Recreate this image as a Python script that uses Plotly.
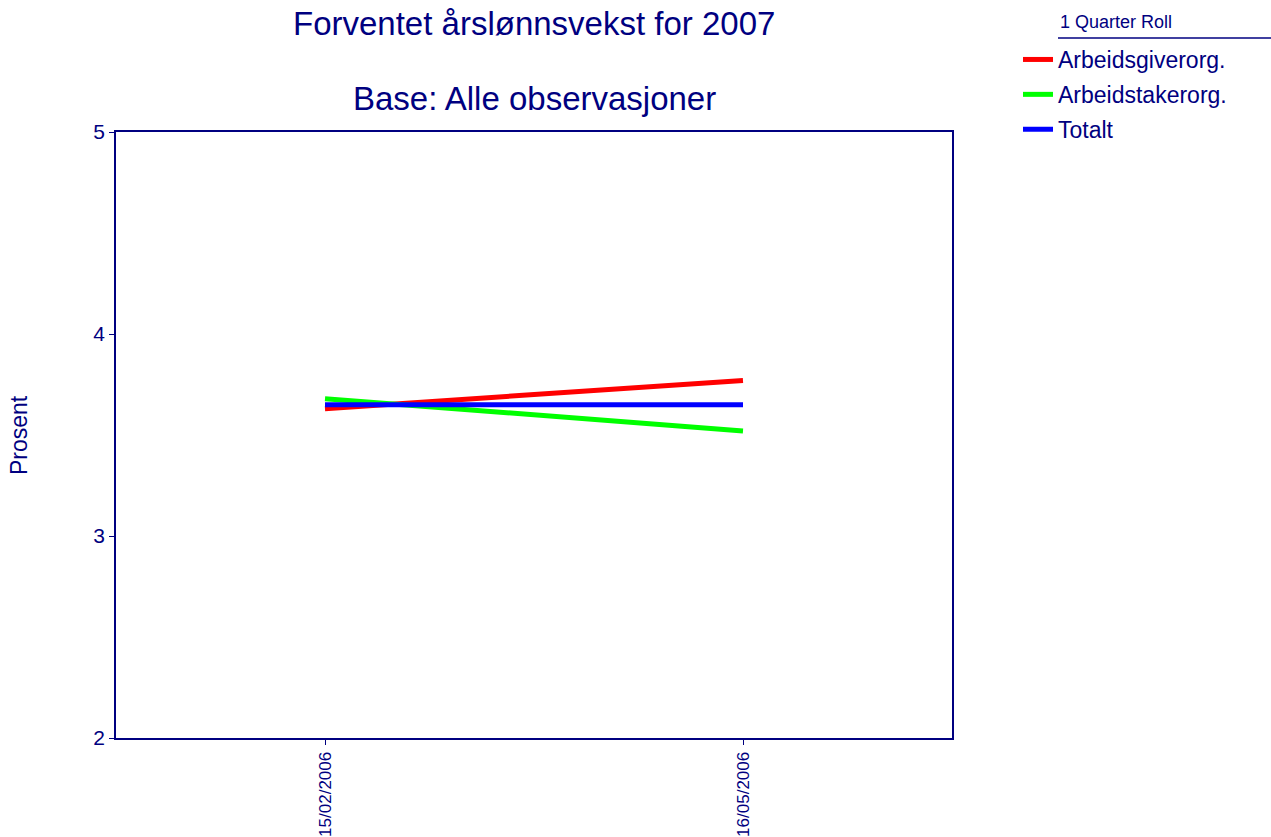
import plotly.graph_objects as go

# Data
dates = ["15/02/2006", "16/05/2006"]
arbeidsgiver = [3.63, 3.77]
arbeidstaker = [3.68, 3.52]
totalt = [3.65, 3.65]

names = ["Arbeidsgiverorg.", "Arbeidstakerorg.", "Totalt"]
colors = ["#ff0000", "#00ff00", "#0000ff"]
navy = "#000080"
font = "Liberation Sans, Arial"

W, H = 1271, 837
L, T = 116, 132
PW, PH = 836, 606


def px(x):
    # pixel x -> paper coordinate
    return (x - L) / PW


def py(y):
    # pixel y -> paper coordinate
    return (T + PH - y) / PH


traces = []
for i, ys in enumerate([arbeidsgiver, arbeidstaker, totalt]):
    traces.append(
        go.Scatter(
            x=dates,
            y=ys,
            name=names[i],
            mode="lines",
            legendgroup=names[i],
            line=dict(color=colors[i], width=5),
        )
    )

layout = go.Layout(
    width=W,
    height=H,
    paper_bgcolor="white",
    plot_bgcolor="white",
    font=dict(family=font, size=20, color=navy),
    margin=dict(l=L, r=W - L - PW, t=T, b=H - T - PH, autoexpand=False),
    legend=dict(
        x=px(1018),
        xanchor="left",
        y=py(38),
        yanchor="top",
        tracegroupgap=2,
        bgcolor="rgba(0,0,0,0)",
        font=dict(size=23, color=navy),
    ),
    showlegend=True,
)

fig = go.Figure(data=traces, layout=layout)

fig.update_xaxes(
    type="category",
    range=[-0.5, 1.5],
    automargin=False,
    showgrid=False,
    showline=True,
    linecolor=navy,
    linewidth=2,
    mirror=True,
    ticks="outside",
    ticklen=5,
    tickcolor=navy,
    tickangle=-90,
    tickfont=dict(size=17),
)
fig.update_yaxes(
    range=[2, 5],
    dtick=1,
    automargin=False,
    showgrid=False,
    zeroline=False,
    showline=True,
    linecolor=navy,
    linewidth=1.5,
    mirror=True,
    ticks="outside",
    ticklen=5,
    tickcolor=navy,
    tickfont=dict(size=21),
)

# two-line title
fig.add_annotation(
    text="Forventet årslønnsvekst for 2007",
    xref="paper", yref="paper",
    x=px(534), y=py(23),
    xanchor="center", yanchor="middle",
    showarrow=False,
    font=dict(size=33, color=navy),
)
fig.add_annotation(
    text="Base: Alle observasjoner",
    xref="paper", yref="paper",
    x=px(534), y=py(98),
    xanchor="center", yanchor="middle",
    showarrow=False,
    font=dict(size=33, color=navy),
)

# y-axis title
fig.add_annotation(
    text="Prosent",
    xref="paper", yref="paper",
    x=px(19), y=py(435),
    xanchor="center", yanchor="middle",
    textangle=-90,
    showarrow=False,
    font=dict(size=23, color=navy),
)

# legend heading and its underline
fig.add_annotation(
    text="1 Quarter Roll",
    xref="paper", yref="paper",
    x=px(1058), y=py(22),
    xanchor="left", yanchor="middle",
    showarrow=False,
    font=dict(size=18, color=navy),
)
fig.add_shape(
    type="line",
    xref="paper", yref="paper",
    x0=px(1058), x1=px(1271),
    y0=py(38), y1=py(38),
    line=dict(color=navy, width=1.5),
)

# drop the default page margin so the figure fills the window
fig.write_html(
    "out.html",
    config={"displayModeBar": False},
    post_script="document.body.style.margin='0';document.body.style.overflow='hidden';",
)
